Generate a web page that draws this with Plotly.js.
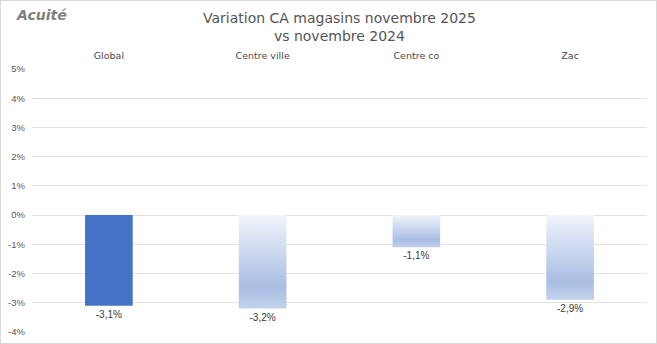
<!DOCTYPE html>
<html><head><meta charset="utf-8">
<script src="https://cdn.plot.ly/plotly-3.0.1.min.js"></script>
<style>
html,body{margin:0;padding:0;background:#fff;}
#chart{width:655px;height:342px;border:1px solid #d9d9d9;}
</style></head>
<body><div id="chart"></div>
<script>
const categories = ["Global", "Centre ville", "Centre co", "Zac"];
const values = [-3.1, -3.2, -1.1, -2.9];
const labels = ["-3,1%", "-3,2%", "-1,1%", "-2,9%"];
const yTicks = [5, 4, 3, 2, 1, 0, -1, -2, -3, -4];

const trace = {
  type: 'bar', x: categories, y: values, text: labels,
  textposition: 'outside', cliponaxis: false,
  textfont: {family: 'Liberation Sans, Arial, sans-serif', size: 10, color: '#3a3a3a'},
  marker: {color: ['#4472c4', '#b4c6e7', '#b4c6e7', '#b4c6e7']},
  width: 0.31, hoverinfo: 'none'
};
const layout = {
  width: 655, height: 342,
  margin: {l: 31, r: 9, t: 68, b: 11},
  paper_bgcolor: '#fff', plot_bgcolor: '#fff',
  showlegend: false,
  xaxis: {side: 'top', showgrid: false, zeroline: false, showline: false, ticks: '',
    tickfont: {family: 'DejaVu Sans, sans-serif', size: 9.5, color: '#4a4a4a'},
    ticklabelstandoff: 7, fixedrange: true},
  yaxis: {range: [-4, 5], tickvals: yTicks, ticktext: yTicks.map(v => v + '%'),
    showgrid: true, gridcolor: '#e3e3e3', gridwidth: 1, zeroline: false, showline: false,
    tickfont: {family: 'Liberation Sans, Arial, sans-serif', size: 9.5, color: '#595959'},
    ticklabelstandoff: 6},
  annotations: [
    {text: 'Variation CA magasins novembre 2025<br>vs novembre 2024', xref: 'paper', yref: 'paper',
     x: 0.5, y: 1.16, xanchor: 'center', yanchor: 'middle', showarrow: false,
     font: {family: 'DejaVu Sans, sans-serif', size: 14, color: '#555555'}},
    {text: '<b><i>Acuité</i></b>', xref: 'paper', yref: 'paper', x: -0.03, y: 1.205,
     xanchor: 'left', yanchor: 'middle', showarrow: false,
     font: {family: 'DejaVu Sans, sans-serif', size: 14, color: '#7f7f7f'}}]
};
Plotly.newPlot('chart', [trace], layout, {displayModeBar: false, staticPlot: true}).then(function(gd){
  const svg = gd.querySelector('svg.main-svg');
  const ns = 'http://www.w3.org/2000/svg';
  let defs = svg.querySelector('defs');
  const lg = document.createElementNS(ns, 'linearGradient');
  lg.setAttribute('id', 'barGrad');
  lg.setAttribute('x1', '0'); lg.setAttribute('y1', '0'); lg.setAttribute('x2', '0'); lg.setAttribute('y2', '1');
  [['0', '#f1f4fb'], ['0.78', '#a9bee4'], ['1', '#c2d1ed']].forEach(function(s){
    const st = document.createElementNS(ns, 'stop');
    st.setAttribute('offset', s[0]); st.setAttribute('stop-color', s[1]);
    lg.appendChild(st);
  });
  defs.appendChild(lg);
  const paths = gd.querySelectorAll('.bars .point path');
  paths.forEach(function(p, i){ if (i > 0) p.style.fill = 'url(#barGrad)'; });
});
</script></body></html>
